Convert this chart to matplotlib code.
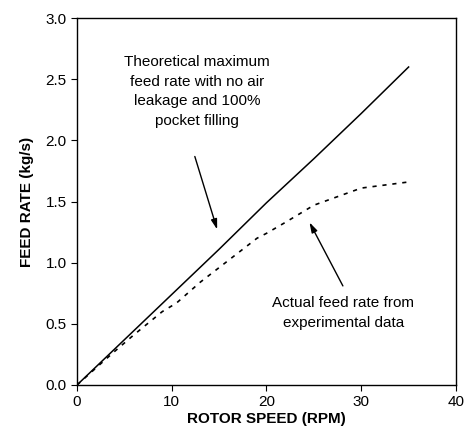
import matplotlib
matplotlib.use("Agg")
import matplotlib.pyplot as plt

plt.rcParams['font.family'] = ['Liberation Sans', 'DejaVu Sans']

# theoretical maximum feed rate
theo_speed = [0, 5, 10, 15, 20, 25, 30, 35]
theo_rate = [0, 0.37, 0.74, 1.11, 1.49, 1.85, 2.22, 2.6]

# actual feed rate from experiments
act_speed = [0, 2.3, 3.9, 6, 9, 10.5, 13, 16, 19, 20, 22, 25, 30, 35]
act_rate = [0, 0.16, 0.27, 0.41, 0.6, 0.67, 0.84, 1.02, 1.2, 1.24, 1.33, 1.47, 1.61, 1.66]

x_ticks = [0, 10, 20, 30, 40]
y_ticks = [0.0, 0.5, 1.0, 1.5, 2.0, 2.5, 3.0]

fig = plt.figure(figsize=(4.65, 4.41), dpi=100)
ax = fig.add_axes([0.1656, 0.127, 0.815, 0.832])

ax.plot(theo_speed, theo_rate, color="black", linewidth=1.1)
ax.plot(act_speed, act_rate, color="black", linewidth=1.2, linestyle=(0, (2.5, 3.5)))

ax.set_xlim(0, 40)
ax.set_ylim(0, 3.0)
ax.set_xticks(x_ticks)
ax.set_yticks(y_ticks)
ax.set_yticklabels(["{:.1f}".format(v) for v in y_ticks])
ax.tick_params(direction="out", length=4, labelsize=11, top=False, right=False)
for s in ax.spines.values():
	s.set_linewidth(1.0)

ax.set_xlabel("ROTOR SPEED (RPM)", fontsize=11, fontweight="bold", labelpad=2)
ax.set_ylabel("FEED RATE (kg/s)", fontsize=11, fontweight="bold", labelpad=8)

arrow = dict(arrowstyle="-|>,head_width=0.18,head_length=0.6", color="black", lw=1.0, mutation_scale=10)
ax.annotate("", xy=(14.88, 1.25), xytext=(12.35, 1.89), arrowprops=arrow)
ax.text(12.7, 2.40, "Theoretical maximum\nfeed rate with no air\nleakage and 100%\npocket filling",
	ha="center", va="center", fontsize=11, linespacing=1.5)

ax.annotate("", xy=(24.4, 1.35), xytext=(28.2, 0.79), arrowprops=arrow)
ax.text(28.1, 0.59, "Actual feed rate from\nexperimental data",
	ha="center", va="center", fontsize=11, linespacing=1.5)

plt.savefig("out.png", dpi=100)
